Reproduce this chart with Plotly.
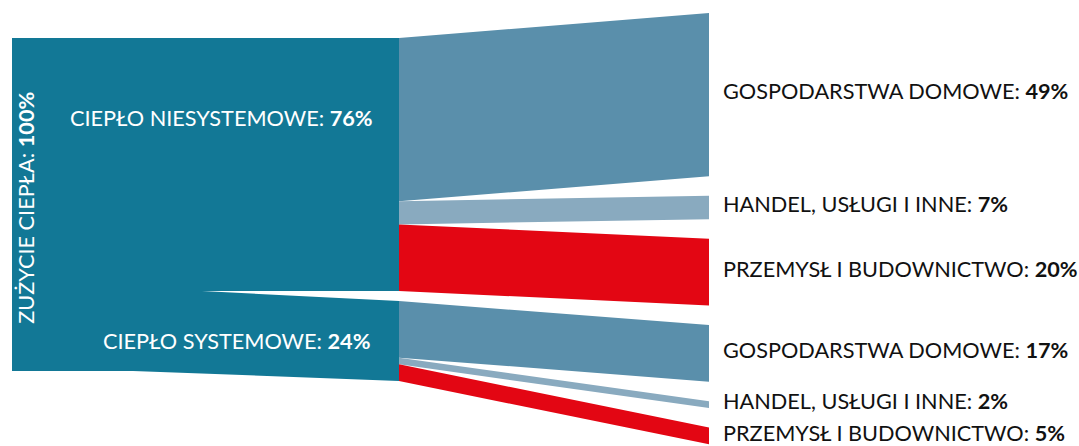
import plotly.graph_objects as go

# --- data (percent of total heat consumption) ---
total_label = "ZUŻYCIE CIEPŁA"
total_value = 100
sources = ["CIEPŁO NIESYSTEMOWE", "CIEPŁO SYSTEMOWE"]
source_values = [76, 24]
targets = ["GOSPODARSTWA DOMOWE", "HANDEL, USŁUGI I INNE", "PRZEMYSŁ I BUDOWNICTWO"]
niesystemowe_values = [49, 7, 20]
systemowe_values = [17, 2, 5]
flow_values = [niesystemowe_values, systemowe_values]

# --- styling / layout ---
BLOCK_COLOR = "#127896"
TARGET_COLORS = ["#5a8fab", "#89aabf", "#e30613"]
FONT = "Lato, 'Open Sans', sans-serif"
FONT_SIZE = 21.7
W, H = 1079, 446
PX_PER_UNIT = 3.33          # vertical pixels per percentage point
TOP_PX = 38                 # pixel row of the top of the total block

X_LEFT = 12                 # left edge of the total block
X_BEND = 133                # lower edge starts to slope here
X_WEDGE = 202               # gap between the two source bands opens here
X_SPLIT = 399               # source bands end, flows begin
X_RIGHT = 709               # flows end
X_LABEL = 721               # right-hand labels
SPLIT_GAP = 3.0             # gap between source bands (pp)
RIGHT_TOP = -7.5            # top of the first target band (pp)
RIGHT_GAP = 5.9             # gap between target bands (pp)
LABEL_SHIFT = -1.0          # right-hand labels sit slightly above band centres

fig = go.Figure()


def band(xs, ys, color):
    fig.add_trace(go.Scatter(
        x=xs, y=ys, mode="lines", fill="toself", fillcolor=color,
        line=dict(width=0, color=color), hoverinfo="skip", showlegend=False,
    ))


# source block: upper band (non-district heat) and lower band (district heat)
upper = source_values[0]
lower = source_values[1]
band([X_LEFT, X_SPLIT, X_SPLIT, X_LEFT], [0, 0, upper, upper], BLOCK_COLOR)
band([X_LEFT, X_WEDGE, X_SPLIT, X_SPLIT, X_BEND, X_LEFT],
     [upper, upper, upper + SPLIT_GAP, upper + SPLIT_GAP + lower, total_value, total_value],
     BLOCK_COLOR)

# flows from each source band to its target bands
source_tops = [0, upper + SPLIT_GAP]
right_y = RIGHT_TOP
label_rows = []
for s_idx, values in enumerate(flow_values):
    left_y = source_tops[s_idx]
    for t_idx, v in enumerate(values):
        band([X_SPLIT, X_RIGHT, X_RIGHT, X_SPLIT],
             [left_y, right_y, right_y + v, left_y + v],
             TARGET_COLORS[t_idx])
        label_rows.append((targets[t_idx], v, right_y + v / 2 + LABEL_SHIFT))
        left_y += v
        right_y += v + RIGHT_GAP

annotations = []
for name, v, yc in label_rows:
    annotations.append(dict(
        x=X_LABEL, y=yc, xref="x", yref="y", xanchor="left", yanchor="middle",
        text=f"{name}: <b>{v}%</b>", showarrow=False,
        font=dict(family=FONT, size=FONT_SIZE, color="#111111"),
    ))

annotations.append(dict(
    x=375, y=upper * 0.315, xref="x", yref="y", xanchor="right", yanchor="middle",
    text=f"{sources[0]}: <b>{source_values[0]}%</b>", showarrow=False,
    font=dict(family=FONT, size=FONT_SIZE, color="white"),
))
annotations.append(dict(
    x=372, y=upper + lower * 0.62, xref="x", yref="y", xanchor="right", yanchor="middle",
    text=f"{sources[1]}: <b>{source_values[1]}%</b>", showarrow=False,
    font=dict(family=FONT, size=FONT_SIZE, color="white"),
))
annotations.append(dict(
    x=26, y=total_value * 0.51, xref="x", yref="y", xanchor="center", yanchor="middle",
    text=f"{total_label}: <b>{total_value}%</b>", textangle=-90, showarrow=False,
    font=dict(family=FONT, size=FONT_SIZE, color="white"),
))

fig.update_layout(
    width=W, height=H,
    margin=dict(l=0, r=0, t=0, b=0),
    paper_bgcolor="white", plot_bgcolor="white",
    xaxis=dict(range=[0, W], visible=False, fixedrange=True),
    yaxis=dict(range=[(H - TOP_PX) / PX_PER_UNIT, -TOP_PX / PX_PER_UNIT],
               visible=False, fixedrange=True),
    annotations=annotations,
)

fig.write_html("out.html")
